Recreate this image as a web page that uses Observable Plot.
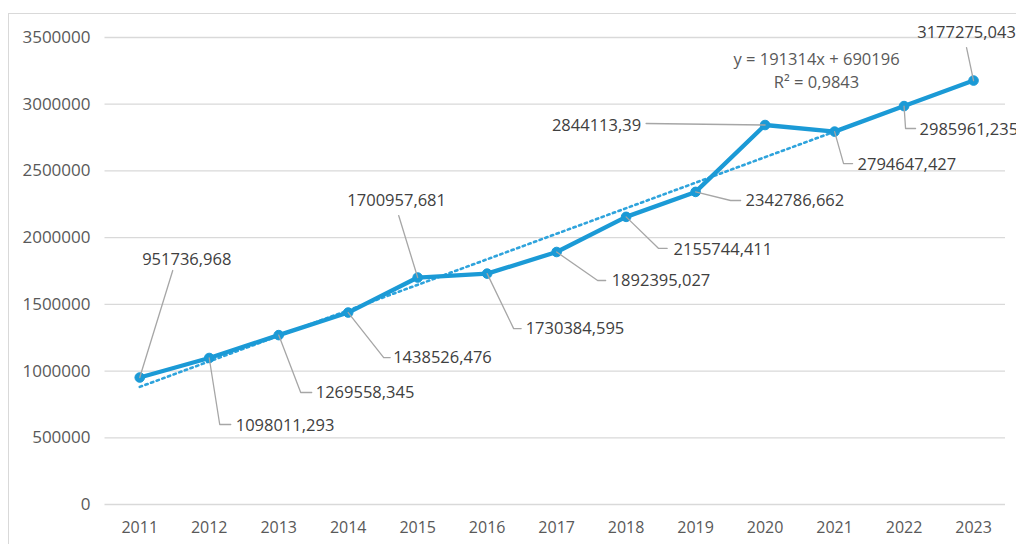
<!DOCTYPE html>
<html>
<head>
<meta charset="utf-8">
<script src="https://cdn.jsdelivr.net/npm/d3@7"></script>
<script src="https://cdn.jsdelivr.net/npm/@observablehq/plot@0.6"></script>
<style>
  html, body { margin: 0; padding: 0; background: #fff; overflow: hidden; }
  #wrap { position: relative; width: 1016px; height: 544px; }
  #border { position: absolute; left: 8px; top: 13px; width: 1100px; height: 600px;
            border: 1.5px solid #d9d9d9; pointer-events: none; }
  svg text { font-family: "Open Sans", sans-serif; }
</style>
</head>
<body>
<div id="wrap"><div id="border"></div></div>
<script>
// ---- data ----
const years = [2011, 2012, 2013, 2014, 2015, 2016, 2017, 2018, 2019, 2020, 2021, 2022, 2023];
const values = [951736.968, 1098011.293, 1269558.345, 1438526.476, 1700957.681, 1730384.595,
                1892395.027, 2155744.411, 2342786.662, 2844113.39, 2794647.427, 2985961.235, 3177275.043];
const yTicks = [0, 500000, 1000000, 1500000, 2000000, 2500000, 3000000, 3500000];
const xTicks = years;
const equationLines = ["y = 191314x + 690196", "R² = 0,9843"];

// ---- label layout (pixel offsets from each point, as placed in the original) ----
// path: leader polyline points after the data point; text: label anchor offset; anchor: text anchor
const labelLayout = [
  {path: [[33, -107]], text: [47, -118], anchor: "middle"},
  {path: [[10.5, 66.5], [21.5, 66.5]], text: [26.5, 67.5], anchor: "start"},
  {path: [[22, 57.4], [33, 57.4]], text: [37, 58], anchor: "start"},
  {path: [[35.5, 45], [42, 45]], text: [45, 45.5], anchor: "start"},
  {path: [[-19, -62]], text: [-21, -77], anchor: "middle"},
  {path: [[26.5, 55], [34, 55]], text: [38.5, 55.5], anchor: "start"},
  {path: [[41, 28.5], [49, 28.5]], text: [55, 29], anchor: "start"},
  {path: [[32.5, 31.6], [41, 31.6]], text: [47.5, 32.6], anchor: "start"},
  {path: [[35, 8.6], [45, 8.6]], text: [50, 8.6], anchor: "start"},
  {path: [[-119, -1.5]], text: [-124, 0.5], anchor: "end"},
  {path: [[9, 32], [18, 32]], text: [23, 33.5], anchor: "start"},
  {path: [[1.5, 22.4], [11.5, 22.4]], text: [15.5, 24], anchor: "start"},
  {path: [[-7, -33]], text: [-7, -48], anchor: "middle"}
];
const equationOffset = [-157, -11.5]; // relative to the last point

// ---- layout ----
const W = 1016, H = 544, mL = 104.5, mR = 11, mT = 37, mB = 40;
const xDomain = [2010.5, 2023.46];
const yDomain = [0, 3500000];
const kx = (xDomain[1] - xDomain[0]) / (W - mL - mR);
const ky = (yDomain[1] - yDomain[0]) / (H - mT - mB);

const data = years.map((year, i) => ({year, value: values[i], label: String(values[i]).replace(".", ",")}));

const leaders = [];
const labels = [];
data.forEach((d, i) => {
  const L = labelLayout[i];
  leaders.push({id: i, x: d.year, y: d.value});
  L.path.forEach(([dx, dy]) => leaders.push({id: i, x: d.year + dx * kx, y: d.value - dy * ky}));
  labels.push({x: d.year + L.text[0] * kx, y: d.value - L.text[1] * ky, text: d.label, anchor: L.anchor});
});
const last = data[data.length - 1];
const eq = [{x: last.year + equationOffset[0] * kx, y: last.value - equationOffset[1] * ky, text: equationLines.join("\n")}];

const blue = "#1b9ad6";
const font = "Open Sans";

const textMark = (anchor) => Plot.text(labels.filter(d => d.anchor === anchor), {
  x: "x", y: "y", text: "text", textAnchor: anchor, fill: "#404040", fontSize: 16.5, fontFamily: font
});

const chart = Plot.plot({
  width: W, height: H,
  marginLeft: mL, marginRight: mR, marginTop: mT, marginBottom: mB,
  style: {background: "transparent", overflow: "visible", fontFamily: font},
  x: {domain: xDomain},
  y: {domain: yDomain},
  marks: [
    Plot.ruleY(yTicks, {stroke: "#d9d9d9", strokeWidth: 1.3}),
    Plot.axisY({ticks: yTicks, tickSize: 0, tickPadding: 14.5, tickFormat: d => String(d),
                label: null, fontSize: 17, color: "#595959", fontFamily: font}),
    Plot.axisX({ticks: xTicks, tickSize: 0, tickPadding: 17, tickFormat: d => String(d),
                label: null, fontSize: 16, color: "#595959", fontFamily: font}),
    Plot.linearRegressionY(data, {x: "year", y: "value", ci: 0, stroke: "#2ea3dc",
                strokeWidth: 2.6, strokeDasharray: "2.4,3.6"}),
    Plot.line(data, {x: "year", y: "value", stroke: blue, strokeWidth: 4.3, strokeLinejoin: "round", strokeLinecap: "round"}),
    Plot.dot(data, {x: "year", y: "value", r: 4.8, fill: blue, stroke: blue, strokeWidth: 1}),
    Plot.line(leaders, {x: "x", y: "y", z: "id", stroke: "#a6a6a6", strokeWidth: 1.3, curve: "linear"}),
    textMark("start"), textMark("middle"), textMark("end"),
    Plot.text(eq, {x: "x", y: "y", text: "text", textAnchor: "middle", lineHeight: 1.4,
                   fill: "#595959", fontSize: 16.5, fontFamily: font})
  ]
});
chart.style.position = "absolute";
chart.style.left = "0px";
chart.style.top = "0px";
document.getElementById("wrap").appendChild(chart);
</script>
</body>
</html>
